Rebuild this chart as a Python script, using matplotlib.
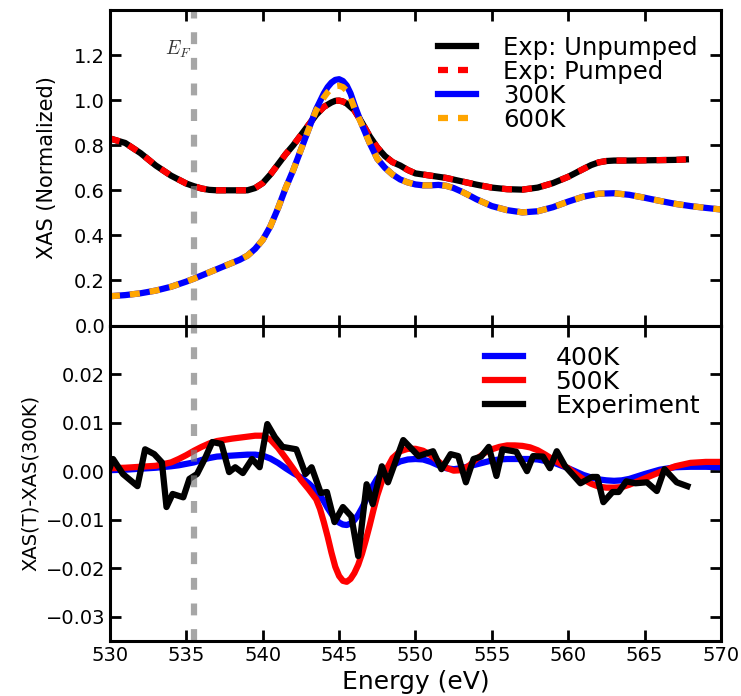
import matplotlib
matplotlib.use('Agg')
import matplotlib.pyplot as plt
import numpy as np

plt.rcParams['mathtext.fontset'] = 'cm'

# XAS spectra (normalized)
e_exp = [530, 531, 532, 533, 534, 535, 535.5, 536, 536.5, 537, 538, 539, 539.5, 540, 540.5,
         541, 541.5, 542, 542.5, 543, 543.5, 544, 544.5, 544.75, 545, 545.25, 545.5, 546,
         546.5, 547, 547.5, 548, 548.5, 549, 549.5, 550, 551, 552, 553, 554, 555, 556, 557,
         558, 559, 560, 561, 561.5, 562, 562.5, 563, 564, 565, 566, 567, 567.7]
xas_unpumped = [0.83, 0.81, 0.765, 0.71, 0.665, 0.63, 0.618, 0.608, 0.602, 0.60, 0.60, 0.60,
                0.61, 0.632, 0.67, 0.715, 0.76, 0.80, 0.845, 0.89, 0.935, 0.97, 0.99, 0.997,
                0.998, 0.994, 0.985, 0.955, 0.90, 0.84, 0.79, 0.752, 0.725, 0.71, 0.69, 0.675,
                0.665, 0.655, 0.64, 0.625, 0.612, 0.605, 0.603, 0.612, 0.632, 0.66, 0.695,
                0.712, 0.724, 0.73, 0.732, 0.732, 0.733, 0.734, 0.735, 0.737]
xas_pumped = [0.83, 0.81, 0.765, 0.71, 0.665, 0.63, 0.618, 0.608, 0.602, 0.60, 0.60, 0.60,
              0.61, 0.632, 0.67, 0.715, 0.76, 0.80, 0.845, 0.89, 0.935, 0.97, 0.99, 0.997,
              0.998, 0.994, 0.985, 0.955, 0.90, 0.84, 0.79, 0.752, 0.725, 0.71, 0.69, 0.675,
              0.665, 0.655, 0.64, 0.625, 0.612, 0.605, 0.603, 0.612, 0.632, 0.66, 0.695,
              0.712, 0.724, 0.73, 0.732, 0.732, 0.733, 0.734, 0.735, 0.737]

e_calc = [530, 531, 532, 533, 534, 535, 535.5, 536, 537, 538, 538.5, 539, 539.5, 540, 540.5,
          541, 541.5, 542, 542.5, 543, 543.5, 544, 544.25, 544.5, 544.75, 545, 545.25, 545.5,
          545.75, 546, 546.5, 547, 547.5, 548, 548.5, 549, 549.5, 550, 550.5, 551, 551.5, 552,
          552.5, 553, 553.5, 554, 555, 556, 557, 558, 559, 560, 561, 562, 563, 564, 565, 566,
          567, 568, 569, 570]
xas_300k = [0.13, 0.135, 0.143, 0.155, 0.172, 0.195, 0.208, 0.222, 0.25, 0.278, 0.292, 0.31,
            0.34, 0.38, 0.44, 0.52, 0.61, 0.69, 0.78, 0.87, 0.96, 1.03, 1.058, 1.078, 1.09,
            1.093, 1.085, 1.065, 1.03, 0.98, 0.89, 0.81, 0.74, 0.70, 0.67, 0.648, 0.635,
            0.626, 0.622, 0.622, 0.624, 0.62, 0.61, 0.595, 0.578, 0.56, 0.53, 0.512, 0.502,
            0.507, 0.525, 0.55, 0.572, 0.585, 0.587, 0.58, 0.567, 0.553, 0.54, 0.53, 0.522,
            0.515]
xas_600k = [0.13, 0.135, 0.143, 0.155, 0.172, 0.195, 0.208, 0.222, 0.25, 0.278, 0.292, 0.31,
            0.34, 0.38, 0.44, 0.52, 0.61, 0.69, 0.78, 0.87, 0.955, 1.012, 1.035, 1.052, 1.062,
            1.064, 1.058, 1.042, 1.01, 0.965, 0.89, 0.81, 0.74, 0.70, 0.67, 0.648, 0.635,
            0.626, 0.622, 0.622, 0.624, 0.62, 0.61, 0.595, 0.578, 0.56, 0.53, 0.512, 0.502,
            0.507, 0.525, 0.55, 0.572, 0.585, 0.587, 0.58, 0.567, 0.553, 0.54, 0.53, 0.522,
            0.515]

# difference spectra XAS(T) - XAS(300K)
e_diff = [530, 531, 532, 533, 534, 534.5, 535, 535.5, 536, 536.5, 537, 538, 539, 539.5, 540,
          540.5, 541, 541.5, 542, 542.5, 543, 543.5, 543.75, 544, 544.25, 544.5, 544.75, 545,
          545.25, 545.5, 545.75, 546, 546.25, 546.5, 546.75, 547, 547.25, 547.5, 548, 548.5,
          549, 549.5, 550, 550.5, 551, 551.5, 552, 552.5, 553, 553.5, 554, 554.5, 555, 555.5,
          556, 556.5, 557, 557.5, 558, 558.5, 559, 559.5, 560, 560.5, 561, 561.5, 562, 562.5,
          563, 563.5, 564, 565, 566, 567, 568, 569, 570]
diff_400k = [0.0002, 0.0003, 0.0005, 0.0007, 0.001, 0.0012, 0.0015, 0.0018, 0.0023, 0.0027,
             0.003, 0.0032, 0.0034, 0.0034, 0.0032, 0.0026, 0.0017, 0.0006, -0.0004, -0.0013,
             -0.0025, -0.004, -0.005, -0.0062, -0.0076, -0.0088, -0.0098, -0.0106, -0.011,
             -0.0111, -0.0108, -0.0101, -0.009, -0.0076, -0.006, -0.0042, -0.0028, -0.0015,
             0.0002, 0.0012, 0.002, 0.0024, 0.0025, 0.0024, 0.0019, 0.0012, 0.0006, 0.0004,
             0.0006, 0.001, 0.0014, 0.0018, 0.0022, 0.0024, 0.0025, 0.0025, 0.0025, 0.0025,
             0.0024, 0.0021, 0.0018, 0.0012, 0.0006, -0.0001, -0.0008, -0.0013, -0.0017,
             -0.0019, -0.002, -0.0019, -0.0016, -0.0006, 0.0003, 0.0008, 0.0009, 0.0009,
             0.0008]
diff_500k = [0.0006, 0.0007, 0.0009, 0.0011, 0.0018, 0.0025, 0.0033, 0.0042, 0.005, 0.0057,
             0.0062, 0.0067, 0.0071, 0.0073, 0.0073, 0.0065, 0.0048, 0.0027, 0.0005, -0.0018,
             -0.0037, -0.0058, -0.0078, -0.0105, -0.0135, -0.0168, -0.0197, -0.0216, -0.0226,
             -0.0228, -0.0222, -0.021, -0.0193, -0.017, -0.0142, -0.0112, -0.008, -0.005,
             -0.0002, 0.0027, 0.0041, 0.0046, 0.0046, 0.0042, 0.0033, 0.002, 0.0007, 0.0001,
             0.0002, 0.0011, 0.0025, 0.0037, 0.0045, 0.005, 0.0053, 0.0053, 0.0052, 0.0049,
             0.0043, 0.0034, 0.0024, 0.0015, 0.0006, -0.0006, -0.0017, -0.0026, -0.0032,
             -0.0034, -0.0034, -0.0033, -0.0028, -0.0015, -0.0002, 0.001, 0.0017, 0.0019,
             0.0019]

e_meas = [530.0, 530.2, 530.85, 531.8, 532.3, 532.9, 533.4, 533.7, 534.1, 534.8, 535.2, 535.7,
          536.2, 536.7, 537.3, 537.8, 538.2, 538.7, 539.3, 539.8, 540.3, 540.8, 541.3, 542.2,
          542.8, 543.2, 543.8, 544.2, 544.7, 545.25, 545.8, 546.25, 546.8, 547.2, 547.8, 548.2,
          549.2, 550.2, 551.15, 551.7, 552.3, 552.8, 553.3, 553.8, 554.3, 554.8, 555.3, 555.7,
          556.6, 557.3, 557.7, 558.35, 558.8, 559.25, 559.8, 560.8, 561.55, 561.9, 562.3,
          562.9, 563.3, 563.8, 564.4, 565.15, 565.8, 566.3, 567.1, 567.8]
diff_meas = [0.0008, 0.0025, -0.0006, -0.0031, 0.0045, 0.0035, 0.0018, -0.0074, -0.0047,
             -0.0054, -0.0016, -0.0006, 0.0025, 0.006, 0.0056, -0.0002, 0.0008, -0.0004, 0.0025,
             0.0008, 0.0097, 0.007, 0.005, 0.0045, -0.0006, 0.0008, -0.0045, -0.0043, -0.0105,
             -0.0074, -0.0093, -0.0175, -0.0027, -0.0068, 0.001, -0.0023, 0.0064, 0.0031,
             0.0041, 0.0004, 0.0035, 0.0031, -0.0023, 0.0025, 0.003, 0.005, -0.001, 0.0045,
             0.004, 0.0, 0.0031, 0.003, 0.0006, 0.0041, 0.001, -0.0025, -0.0012, -0.0012,
             -0.0064, -0.0043, -0.0043, -0.0021, -0.0025, -0.0023, -0.0041, 0.0004, -0.0023,
             -0.0031]

e_fermi = 535.5

fig, axs = plt.subplots(2, 1, figsize=(7.41, 6.96), dpi=100, sharex=True)
fig.subplots_adjust(left=0.1484, right=0.973, top=0.9856, bottom=0.079, hspace=0)

lw = 4.5
dash = (0, (1.6, 1.6))

ax = axs[0]
ax.plot(e_exp, xas_unpumped, color='black', lw=lw, label='Exp: Unpumped')
ax.plot(e_exp, xas_pumped, color='red', lw=lw, ls=dash, label='Exp: Pumped')
ax.plot(e_calc, xas_300k, color='blue', lw=lw, label='300K')
ax.plot(e_calc, xas_600k, color='orange', lw=lw, ls=dash, label='600K')
ax.axvline(e_fermi, color='gray', alpha=0.7, lw=4.5, ls=(0, (1.9, 2.2)))
ax.text(533.6, 1.2, r'$E_F$', fontsize=14, color='#333333')
ax.set_ylim(0, 1.4)
ax.set_yticks(np.arange(0, 1.21, 0.2))
ax.set_ylabel('XAS (Normalized)', fontsize=15, labelpad=12)
ax.legend(loc='upper right', bbox_to_anchor=(0.978, 0.95), frameon=False, fontsize=17.5,
          handlelength=1.6, handletextpad=1.1, labelspacing=0.0, borderaxespad=0)

ax = axs[1]
ax.plot(e_diff, diff_400k, color='blue', lw=lw, label='400K')
ax.plot(e_diff, diff_500k, color='red', lw=lw, label='500K')
ax.plot(e_meas, diff_meas, color='black', lw=lw, label='Experiment')
ax.axvline(e_fermi, color='gray', alpha=0.7, lw=4.5, ls=(0, (1.9, 2.2)))
ax.set_ylim(-0.035, 0.03)
ax.set_yticks([-0.03, -0.02, -0.01, 0.0, 0.01, 0.02])
ax.set_xlim(530, 570)
ax.set_xticks(np.arange(530, 571, 5))
ax.set_xlabel('Energy (eV)', fontsize=18, labelpad=4)
ax.set_ylabel('XAS(T)-XAS(300K)', fontsize=14)
ax.legend(loc='upper right', bbox_to_anchor=(0.982, 0.966), frameon=False, fontsize=18,
          handlelength=1.5, handletextpad=1.3, labelspacing=0.0, borderaxespad=0)

for a in axs:
    for s in a.spines.values():
        s.set_linewidth(2.2)
    a.tick_params(direction='in', top=True, right=True, length=8, width=2, labelsize=14)

fig.savefig('out.png', dpi=100)
